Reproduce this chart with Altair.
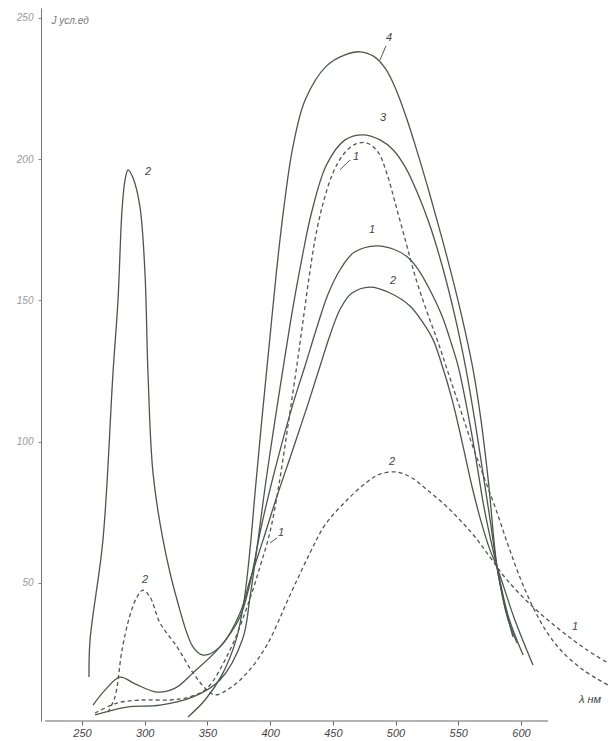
import altair as alt
import pandas as pd

# Emission spectra, intensity in arbitrary units vs wavelength (nm)
c1_nm = [258.8, 268.3, 280.3, 292.3, 309.8, 324.2, 338.5, 360.0, 376.0, 384.0, 393.0, 405.0, 418.0,
         428.0, 437.0, 446.0, 456.0, 467.0, 485.2, 499.0, 509.0, 518.0, 527.0, 537.0, 545.0, 550.0,
         556.0, 563.0, 570.0, 575.5, 580.9, 590.0, 601.7]
c1_val = [6.7, 12.0, 16.6, 14.2, 11.3, 12.7, 18.1, 27.3, 37.9, 50.0, 70.0, 92.0, 113.0,
          127.0, 140.0, 152.0, 161.0, 167.0, 169.3, 168.0, 165.5, 161.0, 154.0, 144.5, 134.0, 126.5,
          114.0, 97.0, 78.0, 66.0, 55.6, 38.0, 24.4]

c2_nm = [255.6, 256.4, 266.7, 274.7, 278.7, 281.9, 284.3, 286.7, 290.7, 296.2, 300.2, 302.6, 306.6,
         314.6, 325.8, 338.5, 346.5, 360.0, 376.0, 384.0, 395.0, 405.0, 418.0, 430.0, 440.0, 448.0,
         456.0, 465.0, 479.7, 495.6, 511.5, 522.0, 530.0, 536.0, 545.0, 553.0, 561.0, 568.0, 575.0,
         580.9, 595.0, 609.6]
c2_val = [16.6, 29.7, 65.2, 124.3, 150.1, 182.0, 192.6, 196.2, 193.3, 183.1, 159.7, 124.3, 88.9,
          65.2, 43.9, 27.3, 24.4, 27.3, 39.3, 51.0, 66.0, 80.0, 97.0, 113.0, 127.0, 138.0,
          147.0, 152.5, 154.7, 152.6, 148.0, 142.0, 136.0, 128.5, 115.0, 100.0, 84.0, 72.0, 62.0,
          55.6, 37.0, 20.9]

c3_nm = [260.4, 285.9, 312.2, 338.5, 360.0, 378.0, 384.0, 390.0, 396.0, 403.0, 410.0, 418.0, 425.0,
         433.0, 445.0, 459.7, 474.1, 487.6, 498.0, 508.0, 517.0, 527.0, 537.0, 547.0, 556.0, 563.0,
         570.0, 575.5, 580.9, 589.0, 596.9]
c3_val = [3.2, 6.0, 6.7, 9.6, 15.6, 30.0, 45.0, 64.0, 84.0, 105.0, 125.0, 147.0, 164.0,
          181.0, 198.0, 206.8, 208.6, 206.8, 203.3, 197.0, 188.5, 177.0, 162.5, 145.0, 126.0, 108.0,
          88.0, 72.0, 55.6, 38.0, 28.7]

c4_nm = [334.5, 348.1, 361.6, 372.8, 379.0, 384.0, 388.0, 393.0, 399.0, 405.0, 411.0, 418.0, 428.0,
         445.0, 459.7, 471.7, 483.0, 492.0, 500.0, 508.0, 517.0, 527.0, 537.0, 547.0, 556.0, 562.0,
         568.0, 574.0, 580.9, 587.0, 593.7]
c4_val = [2.5, 8.5, 17.4, 29.7, 43.0, 62.0, 82.0, 106.0, 133.0, 160.0, 183.0, 204.0, 221.0,
          233.0, 236.9, 238.0, 236.3, 232.0, 225.0, 215.5, 203.0, 188.0, 172.0, 155.0, 138.0, 125.0,
          108.0, 86.0, 55.6, 42.0, 30.8]

d1_nm = [260.4, 277.9, 298.6, 320.2, 336.1, 349.7, 368.0, 381.6, 391.9, 399.9, 406.0, 411.0, 416.0,
         421.0, 426.0, 431.0, 436.0, 442.0, 450.0, 459.0, 468.0, 477.3, 486.0, 493.0, 500.0, 508.0,
         516.0, 525.0, 534.0, 543.0, 552.0, 561.0, 570.0, 580.0, 590.0, 600.0, 610.0, 620.0, 632.0,
         650.0, 669.4]
d1_val = [3.9, 7.4, 8.5, 8.5, 9.6, 12.7, 26.2, 41.4, 55.6, 68.0, 82.0, 96.0, 111.0,
          126.0, 142.0, 158.0, 172.0, 184.0, 195.0, 202.0, 205.3, 205.7, 202.5, 195.0, 184.0, 171.0,
          158.0, 146.0, 135.0, 123.0, 111.0, 99.0, 88.0, 76.0, 63.0, 51.0, 41.0, 33.0, 26.0,
          19.0, 13.8]

d2_nm = [270.7, 276.3, 281.9, 288.3, 293.9, 298.6, 304.2, 312.2, 325.8, 338.5, 349.7, 356.1, 368.0,
         381.6, 397.5, 415.9, 431.8, 443.8, 461.3, 477.3, 487.6, 501.2, 513.1, 525.1, 539.5, 551.4,
         563.4, 575.3, 588.9, 609.6, 631.2, 652.7, 669.4]
d2_val = [4.2, 9.6, 26.2, 38.6, 45.0, 47.4, 45.0, 35.8, 27.3, 18.1, 12.0, 10.3, 12.7,
          18.1, 28.0, 45.7, 60.6, 70.5, 79.3, 85.7, 88.5, 89.2, 87.1, 82.9, 77.5, 72.2,
          66.2, 59.1, 51.0, 41.4, 33.3, 26.2, 21.6]

# Curve numbers written next to the curves
label_text = ["2", "2", "4", "3", "1", "1", "2", "2", "1", "1"]
label_nm = [302.6, 300.2, 494.8, 490.0, 468.5, 481.2, 498.0, 497.2, 408.7, 643.1]
label_val = [195.5, 51.0, 242.9, 214.6, 200.8, 174.9, 156.9, 92.8, 67.6, 34.3]

# Short leader strokes from numbers to curves
lead_nm = [487.6, 455.7, 399.9]
lead_val = [235.1, 196.2, 64.1]
lead_nm2 = [492.4, 463.7, 405.5]
lead_val2 = [240.1, 199.7, 65.9]

x_ticks = [250, 300, 350, 400, 450, 500, 550, 600]
y_ticks = [50, 100, 150, 200, 250]
x_axis_span = [220.5, 621.6]

X_DOMAIN = [217.3, 670.2]
Y_DOMAIN = [1.06, 253.5]

rows = []
for name, style, xs, ys in [("1", "solid", c1_nm, c1_val), ("2", "solid", c2_nm, c2_val),
                            ("3", "solid", c3_nm, c3_val), ("4", "solid", c4_nm, c4_val),
                            ("1d", "dashed", d1_nm, d1_val), ("2d", "dashed", d2_nm, d2_val)]:
    for i, (a, b) in enumerate(zip(xs, ys)):
        rows.append({"curve": name, "style": style, "i": i, "nm": a, "val": b})
df = pd.DataFrame(rows)

xs = alt.Scale(domain=X_DOMAIN, nice=False, zero=False)
ys = alt.Scale(domain=Y_DOMAIN, nice=False, zero=False)

x_axis = alt.Axis(values=x_ticks, grid=False, domain=False, tickSize=4, tickColor="#666",
                  labelFont="Liberation Sans", labelFontStyle="italic", labelFontSize=11,
                  labelColor="#444", labelPadding=2, title=None)
y_axis = alt.Axis(values=y_ticks, grid=False, domain=True, domainColor="#777", tickSize=3,
                  tickColor="#888", labelFont="Liberation Sans", labelFontStyle="italic",
                  labelFontSize=10, labelColor="#999", labelPadding=5,
                  title="J усл.ед", titleAngle=0, titleAlign="left", titleBaseline="middle",
                  titleX=10, titleY=12, titleFont="Liberation Sans", titleFontStyle="italic",
                  titleFontWeight="normal", titleFontSize=10, titleColor="#777")

base = alt.Chart(df)
solid = base.transform_filter(alt.datum.style == "solid").mark_line(
    interpolate="catmull-rom", color="#4a574a", strokeWidth=1.3, clip=True
).encode(
    x=alt.X("nm:Q", scale=xs, axis=x_axis),
    y=alt.Y("val:Q", scale=ys, axis=y_axis),
    detail="curve:N",
    order="i:Q",
)
dashed = base.transform_filter(alt.datum.style == "dashed").mark_line(
    interpolate="catmull-rom", color="#555", strokeWidth=1.3, strokeDash=[4, 3], clip=True
).encode(
    x=alt.X("nm:Q", scale=xs),
    y=alt.Y("val:Q", scale=ys),
    detail="curve:N",
    order="i:Q",
)

labels = alt.Chart(pd.DataFrame({"t": label_text, "nm": label_nm, "val": label_val})).mark_text(
    font="Liberation Sans", fontStyle="italic", fontSize=11, color="#444"
).encode(x=alt.X("nm:Q", scale=xs), y=alt.Y("val:Q", scale=ys), text="t:N")

leaders = alt.Chart(pd.DataFrame({"a": lead_nm, "b": lead_val, "a2": lead_nm2, "b2": lead_val2})).mark_rule(
    color="#555", strokeWidth=1
).encode(x=alt.X("a:Q", scale=xs), y=alt.Y("b:Q", scale=ys), x2="a2:Q", y2="b2:Q")

x_line = alt.Chart(pd.DataFrame({"a": [x_axis_span[0]], "a2": [x_axis_span[1]], "b": [Y_DOMAIN[0]]})).mark_rule(
    color="#666", strokeWidth=1
).encode(x=alt.X("a:Q", scale=xs), x2="a2:Q", y=alt.Y("b:Q", scale=ys))

unit = alt.Chart(pd.DataFrame({"t": ["λ нм"], "nm": [655.0], "val": [8.5]})).mark_text(
    font="Liberation Sans", fontStyle="italic", fontSize=11, color="#444"
).encode(x=alt.X("nm:Q", scale=xs), y=alt.Y("val:Q", scale=ys), text="t:N")

chart = alt.layer(x_line, solid, dashed, leaders, labels, unit).properties(
    width=568, height=713,
    autosize=alt.AutoSizeParams(type="none"),
    padding={"left": 41, "top": 8, "right": 0, "bottom": 20},
    background="white",
).configure_view(stroke=None)

chart.save("out.html", embed_options={"renderer": "svg", "actions": False})
